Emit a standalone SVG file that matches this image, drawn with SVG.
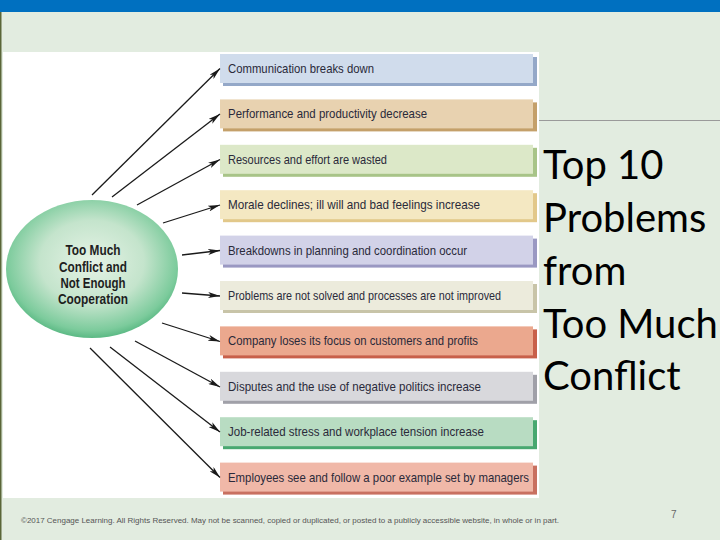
<svg xmlns="http://www.w3.org/2000/svg" width="720" height="540" viewBox="0 0 720 540">
<defs>
<radialGradient id="eg" cx="50%" cy="45%" r="55%">
<stop offset="0" stop-color="#e6f3e6"/>
<stop offset="0.55" stop-color="#c4e4cc"/>
<stop offset="0.9" stop-color="#7ccb9c"/>
<stop offset="1" stop-color="#5bb984"/>
</radialGradient>
<marker id="ah" viewBox="0 0 12 6" refX="12" refY="3" markerWidth="12" markerHeight="6" markerUnits="userSpaceOnUse" orient="auto">
<path d="M0,0 L12,3 L0,6 L3,3 Z" fill="#1a1a1a"/>
</marker>
</defs>
<style>
.bt{font-family:"Liberation Sans",Arial,sans-serif;font-size:13px;fill:#2a2a3a;}
.et{font-family:"Liberation Sans",Arial,sans-serif;font-size:14px;font-weight:bold;fill:#1e1e1e;text-anchor:middle;}
.ti{font-family:Lato,"Open Sans",sans-serif;font-size:40px;fill:#000;}
.cn line{stroke:#1a1a1a;stroke-width:1.3;marker-end:url(#ah);}
</style>
<rect x="0" y="0" width="720" height="540" fill="#e2ece0"/>
<rect x="0" y="0" width="720" height="12" fill="#0070c0"/>
<rect x="0" y="12" width="1.5" height="528" fill="#5a6638"/>
<rect x="3" y="52" width="536" height="446" fill="#ffffff"/>
<line x1="539" y1="120.5" x2="720" y2="120.5" stroke="#9a9a9a" stroke-width="1"/>

<g id="center">
<ellipse cx="92" cy="269" rx="86" ry="69" fill="url(#eg)"/>
<text class="et" x="93" y="255" textLength="55" lengthAdjust="spacingAndGlyphs">Too Much</text>
<text class="et" x="93" y="272" textLength="68" lengthAdjust="spacingAndGlyphs">Conflict and</text>
<text class="et" x="93" y="288" textLength="65" lengthAdjust="spacingAndGlyphs">Not Enough</text>
<text class="et" x="93" y="304" textLength="70" lengthAdjust="spacingAndGlyphs">Cooperation</text>
</g>

<g id="box1"><rect x="223" y="57" width="314" height="29" fill="#94a8c8"/><rect x="220" y="54" width="313" height="29" fill="#d0dcec"/><text class="bt" x="228" y="73" textLength="146" lengthAdjust="spacingAndGlyphs">Communication breaks down</text></g>
<g id="box2"><rect x="223" y="102.4" width="314" height="29" fill="#c4a06a"/><rect x="220" y="99.4" width="313" height="29" fill="#e8d2b0"/><text class="bt" x="228" y="118.4" textLength="199" lengthAdjust="spacingAndGlyphs">Performance and productivity decrease</text></g>
<g id="box3"><rect x="223" y="147.8" width="314" height="29" fill="#a8c488"/><rect x="220" y="144.8" width="313" height="29" fill="#dce8c8"/><text class="bt" x="228" y="163.8" textLength="159" lengthAdjust="spacingAndGlyphs">Resources and effort are wasted</text></g>
<g id="box4"><rect x="223" y="193.2" width="314" height="29" fill="#e2c88a"/><rect x="220" y="190.2" width="313" height="29" fill="#f4e8c2"/><text class="bt" x="228" y="209.2" textLength="252" lengthAdjust="spacingAndGlyphs">Morale declines; ill will and bad feelings increase</text></g>
<g id="box5"><rect x="223" y="238.6" width="314" height="29" fill="#9a98c2"/><rect x="220" y="235.6" width="313" height="29" fill="#d2d2e8"/><text class="bt" x="228" y="254.6" textLength="239" lengthAdjust="spacingAndGlyphs">Breakdowns in planning and coordination occur</text></g>
<g id="box6"><rect x="223" y="284" width="314" height="29" fill="#c8c4a8"/><rect x="220" y="281" width="313" height="29" fill="#ecebdc"/><text class="bt" x="228" y="300" textLength="273" lengthAdjust="spacingAndGlyphs">Problems are not solved and processes are not improved</text></g>
<g id="box7"><rect x="223" y="329.4" width="314" height="29" fill="#c8604a"/><rect x="220" y="326.4" width="313" height="29" fill="#eba88e"/><text class="bt" x="228" y="345.4" textLength="250" lengthAdjust="spacingAndGlyphs">Company loses its focus on customers and profits</text></g>
<g id="box8"><rect x="223" y="374.8" width="314" height="29" fill="#a0a0a8"/><rect x="220" y="371.8" width="313" height="29" fill="#d8d8dc"/><text class="bt" x="228" y="390.8" textLength="253" lengthAdjust="spacingAndGlyphs">Disputes and the use of negative politics increase</text></g>
<g id="box9"><rect x="223" y="420.2" width="314" height="29" fill="#48a870"/><rect x="220" y="417.2" width="313" height="29" fill="#b8dcc2"/><text class="bt" x="228" y="436.2" textLength="256" lengthAdjust="spacingAndGlyphs">Job-related stress and workplace tension increase</text></g>
<g id="box10"><rect x="223" y="465.6" width="314" height="29" fill="#c87060"/><rect x="220" y="462.6" width="313" height="29" fill="#f0b8a8"/><text class="bt" x="228" y="481.6" textLength="301" lengthAdjust="spacingAndGlyphs">Employees see and follow a poor example set by managers</text></g>

<g class="cn" id="connectors">
<line x1="92" y1="195" x2="220" y2="68.5"/>
<line x1="112" y1="197" x2="220" y2="114"/>
<line x1="137" y1="205" x2="220" y2="159.5"/>
<line x1="163" y1="223" x2="220" y2="205"/>
<line x1="182" y1="255" x2="220" y2="250.5"/>
<line x1="182" y1="293" x2="220" y2="296"/>
<line x1="162" y1="323" x2="220" y2="341.5"/>
<line x1="135" y1="341" x2="220" y2="387"/>
<line x1="110" y1="347" x2="220" y2="432"/>
<line x1="90" y1="348" x2="220" y2="477.5"/>
</g>

<g id="title">
<text class="ti" x="543" y="179">Top 10</text>
<text class="ti" x="543" y="232">Problems</text>
<text class="ti" x="543" y="285">from</text>
<text class="ti" x="543" y="338">Too Much</text>
<text class="ti" x="543" y="390">Conflict</text>
</g>

<text x="21" y="523" font-family="Liberation Sans,Arial,sans-serif" font-size="7" fill="#555" textLength="538" lengthAdjust="spacingAndGlyphs">©2017 Cengage Learning. All Rights Reserved. May not be scanned, copied or duplicated, or posted to a publicly accessible website, in whole or in part.</text>
<text x="671" y="518" font-family="Liberation Sans,Arial,sans-serif" font-size="10" fill="#666">7</text>
</svg>
